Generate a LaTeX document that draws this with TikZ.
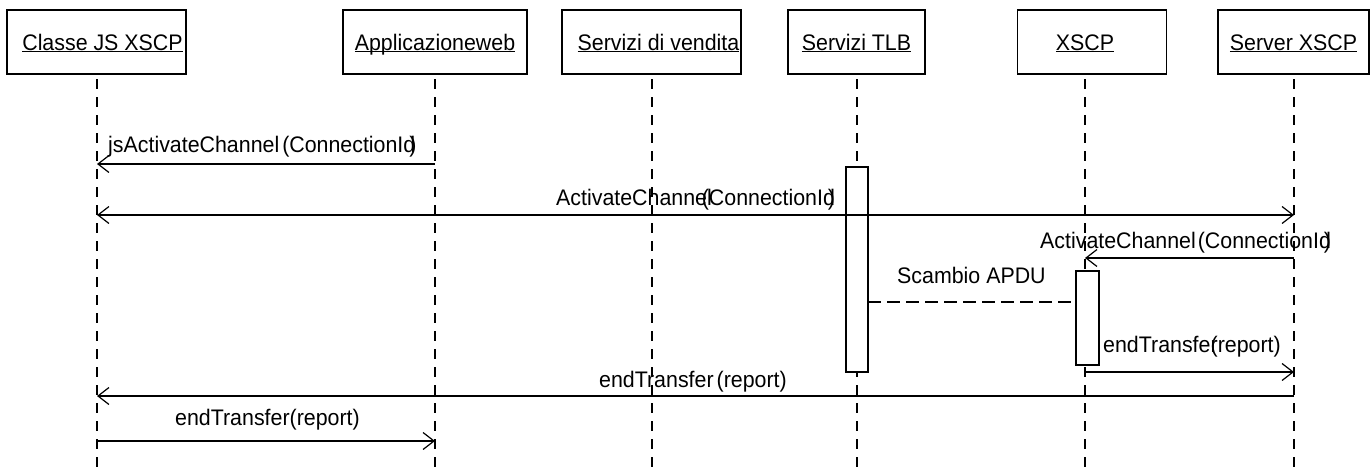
\documentclass[tikz,border=0pt]{standalone}
\usepackage{fontspec}
\setmainfont[FakeStretch=0.95]{Liberation Sans}
\usetikzlibrary{arrows.meta}
\newcommand\uln[1]{\setbox0\hbox{#1}\rlap{\rule[-2.2pt]{\wd0}{1.2pt}}\box0}
\begin{document}
\begin{tikzpicture}[x=1pt,y=-1pt,
  txt/.style={font=\fontsize{22.5}{25}\selectfont},
  lbl/.style={txt, inner sep=0pt, anchor=base west},
  obj/.style={txt, draw, line width=1.2pt, minimum height=64pt, inner sep=0pt, text height=18pt, text depth=2pt},
  life/.style={line width=1.9pt, dash pattern=on 10pt off 8pt},
  act/.style={draw, fill=white, line width=1.2pt, inner sep=0pt},
  tip/.tip={Straight Barb[length=11pt,width=17pt,line width=1.2pt]},
  msg/.style={line width=1.2pt, -tip},
  msgboth/.style={line width=1.2pt, tip-tip},
  ret/.style={line width=1.9pt, dash pattern=on 13pt off 6pt}
]
\useasboundingbox (0,0) rectangle (1370,471);
\fill[white] (0,0) rectangle (1370,471);

% objects
\node[obj, minimum width=179pt] (b1) at (96.5,42) {\kern12pt\uln{Classe JS XSCP}};
\node[obj, minimum width=184pt] (b2) at (435,42) {\uln{Applicazioneweb}};
\node[obj, minimum width=179pt] (b3) at (651.5,42) {\kern14pt\uln{Servizi di vendita}};
\node[obj, minimum width=137pt] (b4) at (856.5,42) {\uln{Servizi TLB}};
\node[obj, minimum width=149pt] (b5) at (1092,42) {\uln{XSCP}\kern14pt};
\node[obj, minimum width=151pt] (b6) at (1293.5,42) {\uln{Server XSCP}};

% lifeline ends
\coordinate (t1) at (97,79);   \coordinate (e1) at (97,471);
\coordinate (t2) at (435,79);  \coordinate (e2) at (435,471);
\coordinate (t3) at (652,79);  \coordinate (e3) at (652,471);
\coordinate (t4) at (857,79);  \coordinate (e4) at (857,471);
\coordinate (t5) at (1085,79); \coordinate (e5) at (1085,471);
\coordinate (t6) at (1294,79); \coordinate (e6) at (1294,471);
\foreach \i in {1,...,6} { \draw[life] (t\i) -- (e\i); }

% activations
\node[act, minimum width=22pt, minimum height=205pt] (a4) at (857,269.5) {};
\node[act, minimum width=23pt, minimum height=94pt] (a5) at (1087.5,318) {};

% message points
\coordinate (m1s) at (435,164);  \coordinate (m1e) at (97,164);
\coordinate (m2s) at (97,215);   \coordinate (m2e) at (1294,215);
\coordinate (m3s) at (1294,258); \coordinate (m3e) at (1085,258);
\coordinate (m4s) at (868,302);  \coordinate (m4e) at (1076,302);
\coordinate (m5s) at (1085,372); \coordinate (m5e) at (1294,372);
\coordinate (m6s) at (1294,396); \coordinate (m6e) at (97,396);
\coordinate (m7s) at (97,441);   \coordinate (m7e) at (435,441);

\draw[msg] (m1s) -- (m1e);
\draw[msgboth] (m2s) -- (m2e);
\draw[msg] (m3s) -- (m3e);
\draw[ret] (m4s) -- (m4e);
\draw[msg] (m5s) -- (m5e);
\draw[msg] (m6s) -- (m6e);
\draw[msg] (m7s) -- (m7e);

% labels
\node[lbl] (l1) at (108,152) {jsActivateChannel\kern3pt(ConnectionId\kern-6pt)};
\node[lbl] (l2) at (556,205) {ActivateChannel\kern-10pt(ConnectionId\kern-7pt)};
\node[lbl] (l3) at (1040,248) {ActivateChannel\kern2pt(ConnectionId\kern-7pt)};
\node[lbl] (l4) at (897,283) {Scambio APDU};
\node[lbl] (l5) at (1103,352) {endTransfer\kern-7pt(report)};
\node[lbl] (l6) at (599,387) {endTransfer\kern3pt(report)};
\node[lbl] (l7) at (175,425) {endTransfer(report)};
\end{tikzpicture}
\end{document}
